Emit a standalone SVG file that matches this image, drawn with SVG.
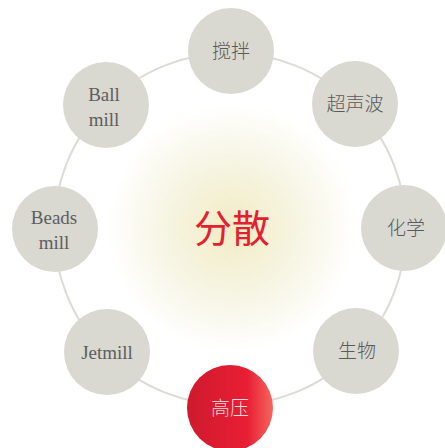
<svg xmlns="http://www.w3.org/2000/svg" width="445" height="448" viewBox="0 0 445 448">
<defs>
<radialGradient id="glow" cx="232" cy="228" r="125" gradientUnits="userSpaceOnUse">
<stop offset="0" stop-color="#f1ecc4"/>
<stop offset="0.55" stop-color="#f7f5e4"/>
<stop offset="1" stop-color="#ffffff"/>
</radialGradient>
<linearGradient id="red" x1="0" y1="0" x2="1" y2="0">
<stop offset="0" stop-color="#cf1a2e"/>
<stop offset="0.7" stop-color="#e81e34"/>
<stop offset="1" stop-color="#f4675f"/>
</linearGradient>
<style>
.node{fill:#d9d8d1}
.lbl{font-family:"Liberation Serif","Noto Sans CJK SC",serif;font-size:19px;fill:#5e5e5e;text-anchor:middle}
.cjk{font-family:"Noto Sans CJK SC",serif;font-size:19px;fill:#5a5a5a;text-anchor:middle;font-weight:300}
</style>
</defs>
<rect width="445" height="448" fill="#fff"/>
<circle cx="232" cy="228" r="125" fill="url(#glow)"/>
<g id="connectors">
<circle cx="230" cy="229" r="176" fill="none" stroke="#dcdbd5" stroke-width="2"/>
</g>
<g id="center"><text x="232" y="242" font-family="Noto Sans CJK SC,sans-serif" font-size="38" fill="#e3202f" text-anchor="middle" font-weight="400">分散</text></g>
<g id="n-jiaoban"><circle class="node" cx="231" cy="51" r="43"/><text class="cjk" x="231" y="58">搅拌</text></g>
<g id="n-chaoshengbo"><circle class="node" cx="355" cy="104" r="43"/><text class="cjk" x="355" y="111">超声波</text></g>
<g id="n-huaxue"><circle class="node" cx="404" cy="228" r="43"/><text class="cjk" x="406" y="235">化学</text></g>
<g id="n-shengwu"><circle class="node" cx="356" cy="351" r="43"/><text class="cjk" x="357" y="358">生物</text></g>
<g id="n-gaoya"><circle cx="230" cy="408" r="43" fill="url(#red)"/><text class="cjk" x="230" y="415" style="fill:#f7dada">高压</text></g>
<g id="n-jetmill"><circle class="node" cx="107" cy="352" r="43"/><text class="lbl" x="107" y="359">Jetmill</text></g>
<g id="n-beadsmill"><circle class="node" cx="55" cy="229" r="43"/><text class="lbl" x="54" y="224">Beads</text><text class="lbl" x="54" y="249">mill</text></g>
<g id="n-ballmill"><circle class="node" cx="106" cy="105" r="43"/><text class="lbl" x="104" y="101">Ball</text><text class="lbl" x="104" y="126">mill</text></g>
</svg>
